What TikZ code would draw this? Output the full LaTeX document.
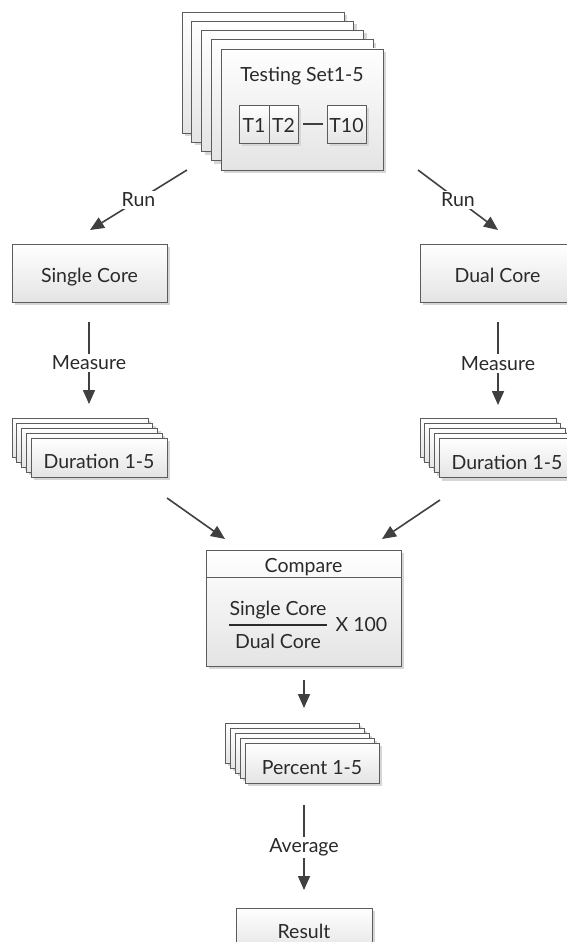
\documentclass[tikz,border=0pt]{standalone}
\usepackage{fontspec}
\setmainfont{Lato}
\usetikzlibrary{arrows.meta,shadows}

\definecolor{edge}{HTML}{5C5C5C}
\definecolor{ink}{HTML}{2A2A2A}
\definecolor{wire}{HTML}{404040}
\definecolor{shade}{HTML}{E4E4E4}
\definecolor{shadowgray}{HTML}{D6D6D6}

\tikzset{
  lbl/.style={font=\fontsize{19.5}{23}\selectfont, text=ink},
  card/.style={lbl, draw=edge, line width=0.9pt, top color=white, bottom color=shade,
    inner sep=0pt,
    drop shadow={shadow xshift=3pt, shadow yshift=-3pt, fill=shadowgray, opacity=1}},
  lowtext/.style={text height=22pt, text depth=0pt},
  flow/.style={draw=wire, line width=1.6pt, -{Triangle[length=14pt,width=12pt]}},
  plain/.style={draw=wire, line width=1.6pt},
  tag/.style={lbl, fill=white, inner sep=2pt},
  setcard/.style={card, minimum width=162pt, minimum height=121pt},
  tcard/.style={card, minimum height=38pt, text height=17pt, text depth=0pt},
  durcard/.style={card, lowtext, minimum width=136pt, minimum height=39pt},
  pctcard/.style={card, lowtext, minimum width=134pt, minimum height=40pt},
}

\begin{document}
\begin{tikzpicture}[x=1pt,y=-1pt]
\useasboundingbox (0,0) rectangle (567,942);
\clip (0,0) rectangle (567,942);

% stack of five testing sets
\foreach \k in {4,3,2,1}
  \node[setcard] (set\k) at ({302-9.75*\k},{109.5-9.25*\k}) {};
\node[setcard] (set) at (302,109.5) {};
\node[lbl] (settitle) at (302,76) {Testing Set1-5};
\node[tcard, minimum width=30pt] (t1) at (254,124) {T1};
\node[tcard, minimum width=29pt] (t2) at (283.5,124) {T2};
\node[tcard, minimum width=39pt] (t10) at (346.5,124) {T10};
\draw[plain, shorten <=5pt, shorten >=4pt] (t2) -- (t10);

% the two machines
\node[card, text height=19pt, text depth=0pt, minimum width=155pt, minimum height=58pt] (sc) at (89.5,273) {Single Core};
\node[card, text height=19pt, text depth=0pt, minimum width=155pt, minimum height=58pt] (dc) at (497.5,273) {Dual Core};

\coordinate (runLa) at (187,170);
\coordinate (runLb) at (90,230);
\coordinate (runRa) at (418,170);
\coordinate (runRb) at (498,230);
\draw[flow] (runLa) -- node[tag] {Run} (runLb);
\draw[flow] (runRa) -- node[tag] {Run} (runRb);

% measured durations
\foreach \k in {4,3,2,1}
  \node[durcard] (durL\k) at ({99-4.75*\k},{457.5-5*\k}) {};
\node[durcard] (durL) at (99,457.5) {Duration 1-5};
\foreach \k in {4,3,2,1}
  \node[durcard] (durR\k) at ({507-4.75*\k},{458-5*\k}) {};
\node[durcard] (durR) at (507,458) {Duration 1-5};

\coordinate (msLa) at (89,322);
\coordinate (msLb) at (89,404);
\coordinate (msRa) at (498,322);
\coordinate (msRb) at (498,405);
\draw[flow] (msLa) -- node[tag] {Measure} (msLb);
\draw[flow] (msRa) -- node[tag] {Measure} (msRb);

% comparison
\node[card, minimum width=195pt, minimum height=116pt] (cmp) at (303.5,608) {};
\draw[draw=edge, line width=0.9pt] ([yshift=-28pt]cmp.north west) -- ([yshift=-28pt]cmp.north east);
\node[lbl] (cmphead) at (303.5,567) {Compare};
\node[lbl, inner sep=0pt] (num) at (278,610) {Single Core};
\node[lbl, inner sep=0pt] (den) at (278,641) {Dual Core};
\draw[draw=ink, line width=1.6pt] (num.west |- 0,625) -- (num.east |- 0,625);
\node[lbl, inner sep=0pt] (times) at (361.5,625) {X 100};

\coordinate (cmLa) at (167,498);
\coordinate (cmLb) at (225,539);
\coordinate (cmRa) at (440,500);
\coordinate (cmRb) at (382,539);
\draw[flow] (cmLa) -- (cmLb);
\draw[flow] (cmRa) -- (cmRb);

% percentages
\foreach \k in {4,3,2,1}
  \node[pctcard] (pct\k) at ({312-5*\k},{763-5*\k}) {};
\node[pctcard] (pct) at (312,763) {Percent 1-5};

\coordinate (pcA) at (304,680);
\coordinate (pcB) at (304,708);
\draw[flow] (pcA) -- (pcB);

% final result
\coordinate (avA) at (304,805);
\coordinate (avB) at (304,890);
\draw[flow] (avA) -- node[tag] {Average} (avB);
\node[card, text height=16pt, text depth=0pt, minimum width=136pt, minimum height=44pt] (res) at (304,930) {Result};
\end{tikzpicture}
\end{document}
